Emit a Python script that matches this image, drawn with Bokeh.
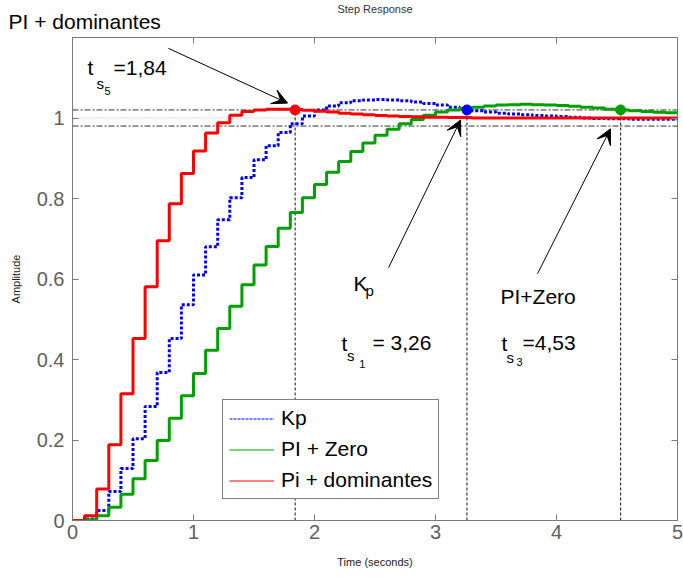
import numpy as np
from bokeh.plotting import figure
from bokeh.models import (Range1d, LinearAxis, FixedTicker, Label, Arrow, VeeHead,
                          Legend, LegendItem, Title)
from bokeh.embed import file_html
from bokeh.resources import INLINE

# ---------------- data ----------------
time = np.round(np.arange(0, 51) * 0.1, 1)

kp = [0.000, 0.004, 0.025, 0.072, 0.129, 0.203, 0.283, 0.368, 0.452, 0.536,
      0.610, 0.680, 0.747, 0.802, 0.852, 0.896, 0.931, 0.964, 0.986, 1.005,
      1.020, 1.030, 1.038, 1.043, 1.045, 1.046, 1.045, 1.043, 1.040, 1.036,
      1.032, 1.027, 1.022, 1.018, 1.015, 1.012, 1.010, 1.008, 1.006, 1.005,
      1.004, 1.002, 1.000, 0.999, 0.998, 0.998, 0.997, 0.997, 0.997, 0.997,
      0.997]

pi_zero = [0.000, 0.002, 0.012, 0.033, 0.065, 0.104, 0.149, 0.199, 0.254, 0.310,
           0.365, 0.423, 0.477, 0.532, 0.586, 0.635, 0.681, 0.726, 0.765, 0.802,
           0.835, 0.865, 0.892, 0.917, 0.938, 0.957, 0.972, 0.986, 0.996, 1.007,
           1.015, 1.020, 1.024, 1.027, 1.030, 1.032, 1.033, 1.034, 1.033, 1.032,
           1.031, 1.029, 1.027, 1.025, 1.022, 1.020, 1.018, 1.016, 1.014, 1.013,
           1.012]

pi_dom = [0.000, 0.012, 0.078, 0.188, 0.315, 0.452, 0.581, 0.695, 0.787, 0.862,
          0.918, 0.963, 0.988, 1.007, 1.016, 1.020, 1.022, 1.022, 1.021, 1.019,
          1.017, 1.015, 1.012, 1.010, 1.008, 1.006, 1.005, 1.004, 1.003, 1.002,
          1.002, 1.001, 1.001, 1.000, 1.000, 1.000, 1.000, 1.000, 1.000, 1.000,
          1.000, 1.000, 1.000, 1.000, 1.000, 1.000, 1.000, 1.000, 1.000, 1.000,
          1.000]

settle_t = [1.84, 3.26, 4.53]
settle_y = [1.02, 1.02, 1.02]
settle_colors = ["#ff0000", "#0000ff", "#00a000"]
band = [0.98, 1.02]
final_value = 1.0

x_ticks = [0, 1, 2, 3, 4, 5]
y_ticks = [0, 0.2, 0.4, 0.6, 0.8, 1.0]
y_tick_labels = ["0", "0.2", "0.4", "0.6", "0.8", "1"]

FONT = "Liberation Sans"
AX_COL = "#7a7a7a"
LBL_COL = "#606060"

# ---------------- figure ----------------
p = figure(width=683, height=577, output_backend="svg", toolbar_location=None,
           x_range=Range1d(0, 5), y_range=Range1d(0, 1.2),
           min_border_left=72, min_border_right=6, min_border_top=37,
           min_border_bottom=57)
p.grid.visible = False
p.outline_line_color = AX_COL
p.outline_line_width = 1
p.background_fill_color = "white"
p.border_fill_color = "white"

p.xaxis.ticker = FixedTicker(ticks=x_ticks)
p.yaxis.ticker = FixedTicker(ticks=y_ticks)
p.yaxis.major_label_overrides = {t: l for t, l in zip(y_ticks, y_tick_labels)}
p.xaxis.axis_label = "Time (seconds)"
p.yaxis.axis_label = "Amplitude"
for ax in [p.xaxis[0], p.yaxis[0]]:
    ax.major_tick_in = 6
    ax.major_tick_out = 0
    ax.minor_tick_line_color = None
    ax.axis_line_color = AX_COL
    ax.major_tick_line_color = AX_COL
    ax.major_label_text_font = FONT
    ax.major_label_text_font_size = "20px"
    ax.major_label_text_color = LBL_COL
    ax.axis_label_text_font = FONT
    ax.axis_label_text_font_size = "11px"
    ax.axis_label_text_font_style = "normal"
    ax.axis_label_text_color = "#222222"
p.xaxis.major_label_standoff = 4
p.xaxis.axis_label_standoff = 14
p.yaxis.major_label_standoff = 8
p.yaxis.axis_label_standoff = 12

# mirrored tick marks on top and right (no labels, like MATLAB's box)
top = LinearAxis(ticker=FixedTicker(ticks=x_ticks), major_label_text_font_size="0px",
                 major_label_text_color=None,
                 major_tick_in=6, major_tick_out=0, major_label_standoff=0,
                 axis_line_color=None, major_tick_line_color=AX_COL,
                 minor_tick_line_color=None)
right = LinearAxis(ticker=FixedTicker(ticks=y_ticks), major_label_text_font_size="0px",
                   major_label_text_color=None,
                   major_tick_in=6, major_tick_out=0, major_label_standoff=0,
                   axis_line_color=None, major_tick_line_color=AX_COL,
                   minor_tick_line_color=None)
p.add_layout(top, "above")
p.add_layout(right, "right")

# titles outside the frame
p.add_layout(Title(text="PI + dominantes", align="left", offset=-64, standoff=10,
                   text_font=FONT, text_font_size="21px", text_font_style="normal",
                   text_color="black"), "above")
p.add_layout(Title(text="Step Response", align="center", offset=0, standoff=-24,
                   text_font=FONT, text_font_size="11px", text_font_style="normal",
                   text_color="#333333"), "above")

# reference lines
p.line([0, 5], [final_value, final_value], line_color="#b0b0b0", line_width=1, line_dash="1 2")
for b in band:
    p.line([0, 5], [b, b], line_color="#333333", line_width=1, line_dash="6 2 2 2")
for t, yv in zip(settle_t, settle_y):
    p.line([t, t], [0, yv], line_color="#111111", line_width=1, line_dash="3 2")

# curves
p.step(time, kp, mode="after", line_color="#0000ff", line_width=3, line_dash="3 2")
p.step(time, pi_zero, mode="after", line_color="#00a000", line_width=3)
p.step(time, pi_dom, mode="after", line_color="#ff0000", line_width=3)

p.scatter(settle_t, settle_y, size=10, fill_color=settle_colors, line_color=settle_colors)

# legend (thin samples like the original); NaN data so nothing is drawn in the axes
l_kp = p.line([np.nan], [np.nan], line_color="#0000ff", line_width=1, line_dash="3 1")
l_pz = p.line([np.nan], [np.nan], line_color="#00a000", line_width=1)
l_pd = p.line([np.nan], [np.nan], line_color="#ff0000", line_width=1)
legend = Legend(items=[LegendItem(label="Kp", renderers=[l_kp]),
                       LegendItem(label="PI + Zero", renderers=[l_pz]),
                       LegendItem(label="Pi + dominantes", renderers=[l_pd])],
                location=(150, 21), margin=0, padding=6, spacing=7,
                glyph_width=45, glyph_height=23, label_height=23, label_standoff=7,
                label_text_font=FONT, label_text_font_size="21px",
                label_text_color="black", border_line_color="black",
                border_line_width=1.5, background_fill_alpha=1)
p.add_layout(legend)

# arrows
arrows = [((0.793, 1.173), (1.777, 1.037)),
          ((2.612, 0.628), (3.207, 0.995)),
          ((3.843, 0.613), (4.446, 0.973))]
for (xs, ys), (xe, ye) in arrows:
    p.add_layout(Arrow(end=VeeHead(size=15, fill_color="black", line_color="black"),
                       x_start=xs, y_start=ys, x_end=xe, y_end=ye,
                       line_color="black", line_width=1))

# texts
def lab(x, y, text, size, color="black", align="left"):
    p.add_layout(Label(x=x, y=y, text=text, text_font=FONT, text_font_size=size,
                       text_color=color, text_baseline="alphabetic", text_align=align))

lab(0.124, 1.125, "t", "21px")
lab(0.198, 1.086, "s", "15px")
lab(0.264, 1.066, "5", "11px")
lab(0.339, 1.125, "=1,84", "21px")

lab(2.322, 0.589, "K", "21px")
lab(2.421, 0.571, "p", "15px")

lab(2.223, 0.440, "t", "21px")
lab(2.268, 0.410, "s", "15px")
lab(2.370, 0.390, "1", "11px")
lab(2.479, 0.442, "= 3,26", "21px")

lab(3.537, 0.557, "PI+Zero", "21px")

lab(3.545, 0.440, "t", "21px")
lab(3.587, 0.405, "s", "15px")
lab(3.669, 0.395, "3", "11px")
lab(3.719, 0.442, "=4,53", "21px")

open("out.html", "w").write(file_html(p, INLINE))
